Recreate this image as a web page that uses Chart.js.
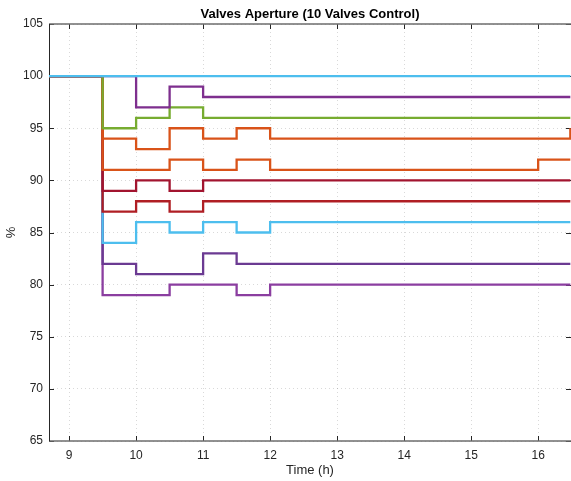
<!DOCTYPE html>
<html>
<head>
<meta charset="utf-8">
<script src="https://cdn.jsdelivr.net/npm/chart.js@4.4.0/dist/chart.umd.min.js"></script>
<style>
  html, body { margin: 0; padding: 0; background: #fff; }
  #wrap { width: 571px; height: 481px; }
</style>
</head>
<body>
<div id="wrap"><canvas id="aperture-chart"></canvas></div>
<script>
// switching instants (h); each value holds from its instant until the next one
const hours = [8.5, 9.5, 10, 10.5, 11, 11.5, 12, 16, 16.48];

// valve apertures (%) at each instant
const valve01 = [100, 100, 100, 100, 100, 100, 100, 100, 100];
const valve02 = [100, 100, 97, 99, 98, 98, 98, 98, 98];
const valve03 = [100, 95, 96, 97, 96, 96, 96, 96, 96];
const valve04 = [100, 94, 93, 95, 94, 95, 94, 94, 95];
const valve05 = [100, 91, 91, 92, 91, 92, 91, 92, 92];
const valve06 = [100, 89, 90, 89, 90, 90, 90, 90, 90];
const valve07 = [100, 87, 88, 87, 88, 88, 88, 88, 88];
const valve08 = [100, 84, 86, 85, 86, 85, 86, 86, 86];
const valve09 = [100, 82, 81, 81, 83, 82, 82, 82, 82];
const valve10 = [100, 79, 79, 80, 80, 79, 80, 80, 80];

const timeTicks = [9, 10, 11, 12, 13, 14, 15, 16];
const pctTicks = [65, 70, 75, 80, 85, 90, 95, 100, 105];

const valves = [valve01, valve02, valve03, valve04, valve05, valve06, valve07, valve08, valve09, valve10];
const colors = ['#4DBEEE', '#7E2F8E', '#77AC30', '#D95319', '#D95319',
                '#A2142F', '#B01E24', '#4DBEEE', '#6B3A92', '#8B3EA0'];

const FONT = "'Liberation Sans', Arial, sans-serif";
const INK = '#262626';

// box around the axes plus MATLAB-style inward tick marks
const axesBox = {
  id: 'axesBox',
  beforeDatasetsDraw(chart) {
    const { ctx, chartArea: a, scales } = chart;
    const len = 5;
    ctx.save();
    ctx.lineWidth = 1;
    ctx.strokeStyle = INK;
    ctx.beginPath();
    timeTicks.forEach(t => {
      const x = Math.round(scales.x.getPixelForValue(t)) + 0.5;
      ctx.moveTo(x, a.bottom); ctx.lineTo(x, a.bottom - len);
      ctx.moveTo(x, a.top); ctx.lineTo(x, a.top + len);
    });
    pctTicks.forEach(p => {
      const y = Math.round(scales.y.getPixelForValue(p)) + 0.5;
      ctx.moveTo(a.left, y); ctx.lineTo(a.left + len, y);
      ctx.moveTo(a.right, y); ctx.lineTo(a.right - len, y);
    });
    ctx.stroke();
    ctx.strokeStyle = '#6e6e6e';
    ctx.lineWidth = 1.5;
    ctx.beginPath();
    ctx.moveTo(a.left, a.top); ctx.lineTo(a.right, a.top);
    ctx.moveTo(a.left, a.bottom); ctx.lineTo(a.right, a.bottom);
    ctx.stroke();
    ctx.strokeStyle = INK;
    ctx.lineWidth = 1;
    ctx.beginPath();
    ctx.moveTo(a.left + 0.5, a.top); ctx.lineTo(a.left + 0.5, a.bottom);
    ctx.stroke();
    ctx.restore();
  }
};

const datasets = valves.map((vals, i) => ({
  label: 'Valve ' + (i + 1),
  data: hours.map((h, k) => ({ x: h, y: vals[k] })),
  borderColor: colors[i],
  borderWidth: 2.3,
  pointRadius: 0,
  stepped: true,
  fill: false,
  order: i
}));

new Chart(document.getElementById('aperture-chart'), {
  type: 'line',
  data: { datasets },
  plugins: [axesBox],
  options: {
    responsive: true,
    maintainAspectRatio: false,
    animation: false,
    layout: { padding: 0 },
    plugins: {
      legend: { display: false },
      tooltip: { enabled: false },
      title: {
        display: true,
        fullSize: false,
        text: 'Valves Aperture (10 Valves Control)',
        color: '#000',
        font: { family: FONT, size: 13, weight: 'bold' },
        padding: { top: 6.5, bottom: 1.9 }
      }
    },
    scales: {
      x: {
        type: 'linear',
        min: 8.7,
        max: 16.49,
        afterBuildTicks: s => { s.ticks = timeTicks.map(v => ({ value: v })); },
        afterFit: s => { s.height = 40; },
        ticks: { color: INK, font: { family: FONT, size: 12 }, padding: 7, autoSkip: false, maxRotation: 0 },
        grid: { color: 'rgba(0,0,0,0.15)', drawTicks: false },
        border: { display: false, dash: [1, 3] },
        title: { display: true, text: 'Time (h)', color: INK, font: { family: FONT, size: 13 }, padding: { top: 0, bottom: 3 } }
      },
      y: {
        min: 65,
        max: 105,
        afterBuildTicks: s => { s.ticks = pctTicks.map(v => ({ value: v })); },
        afterFit: s => { s.width = 49; },
        ticks: { color: INK, font: { family: FONT, size: 12 }, padding: 6 },
        grid: { color: 'rgba(0,0,0,0.15)', drawTicks: false },
        border: { display: false, dash: [1, 3] },
        title: { display: true, text: '%', color: INK, font: { family: FONT, size: 13 }, padding: { top: 4, bottom: 0 } }
      }
    }
  }
});
</script>
</body>
</html>
